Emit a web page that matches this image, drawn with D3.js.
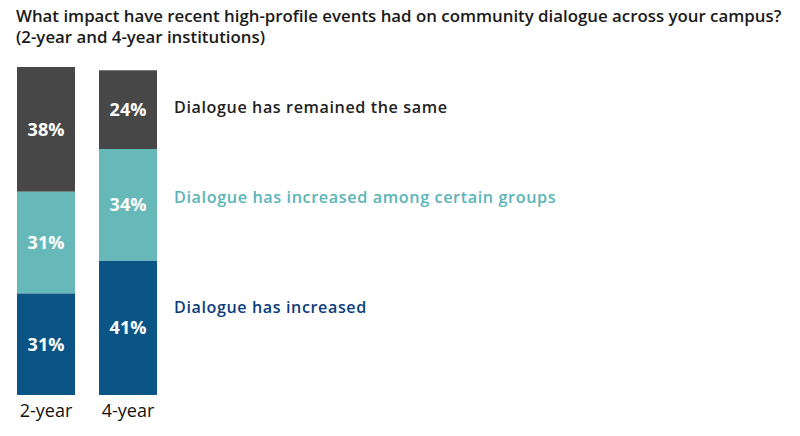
<!DOCTYPE html>
<html>
<head>
<meta charset="utf-8">
<script src="https://cdn.jsdelivr.net/npm/d3@7"></script>
<style>
  body { margin: 0; background: #fff; }
  text { font-family: "Open Sans", "DejaVu Sans", sans-serif; }
</style>
</head>
<body>
<script>
// data
var categories = ["2-year", "4-year"];
var seriesNames = ["Dialogue has increased", "Dialogue has increased among certain groups", "Dialogue has remained the same"];
var increased = [31, 41];
var increasedGroups = [31, 34];
var remainedSame = [38, 24];
var titleLines = ["What impact have recent high-profile events had on community dialogue across your campus?",
                  "(2-year and 4-year institutions)"];

var barColors = ["#0b5486", "#67b8b9", "#474747"];
var legendColors = ["#0b3d7c", "#5ab5b8", "#222222"];

var width = 800, height = 436;

var svg = d3.select("body").append("svg")
    .attr("width", width)
    .attr("height", height);

// fit a text element to a given width by scaling the font size
function fitWidth(sel, target) {
  var fs = parseFloat(sel.attr("font-size"));
  var w = sel.node().getComputedTextLength();
  sel.attr("font-size", (fs * target / w).toFixed(2));
}

// title
var t1 = svg.append("text").attr("x", 16).attr("y", 22)
    .attr("font-size", 17).attr("font-weight", 600).attr("fill", "#1a1a1a")
    .text(titleLines[0]);
fitWidth(t1, 766);
var t2 = svg.append("text").attr("x", 16).attr("y", 43)
    .attr("font-size", t1.attr("font-size")).attr("font-weight", 600).attr("fill", "#1a1a1a")
    .text(titleLines[1]);

var rows = categories.map(function(c, i) {
  return { cat: c, v0: increased[i], v1: increasedGroups[i], v2: remainedSame[i] };
});

var stack = d3.stack().keys(["v0", "v1", "v2"]);
var layers = stack(rows);

var x = d3.scaleBand()
    .domain(categories)
    .range([17, 157])
    .paddingInner(24 / 82);

var y = d3.scaleLinear()
    .domain([0, 100])
    .range([395, 67]);

var g = svg.selectAll(".layer")
    .data(layers)
  .enter().append("g")
    .attr("class", "layer")
    .attr("fill", function(d, i) { return barColors[i]; });

g.selectAll("rect")
    .data(function(d) { return d; })
  .enter().append("rect")
    .attr("x", function(d) { return x(d.data.cat); })
    .attr("y", function(d) { return y(d[1]); })
    .attr("width", x.bandwidth())
    .attr("height", function(d) { return y(d[0]) - y(d[1]); });

// value labels inside the segments
g.selectAll(".val")
    .data(function(d) { return d; })
  .enter().append("text")
    .attr("class", "val")
    .attr("x", function(d) { return x(d.data.cat) + x.bandwidth() / 2; })
    .attr("y", function(d) { return (y(d[0]) + y(d[1])) / 2; })
    .attr("dy", "0.36em")
    .attr("text-anchor", "middle")
    .attr("font-size", 18)
    .attr("font-weight", 700)
    .attr("fill", "#fff")
    .text(function(d) { return (d[1] - d[0]) + "%"; });

// category axis, no line or ticks
svg.append("g")
    .attr("transform", "translate(0,396)")
    .call(d3.axisBottom(x).tickSize(0).tickPadding(8))
    .call(function(a) { a.select(".domain").remove(); })
    .selectAll("text")
    .attr("font-size", 18)
    .attr("font-weight", 500)
    .attr("fill", "#111")
    .style("font-family", "\"Open Sans\", sans-serif");

// legend labels beside the 4-year bar
var legendY = [307, 197, 107];
var legendW = [193, 383, 274];
seriesNames.forEach(function(name, i) {
  var t = svg.append("text")
      .attr("x", 174)
      .attr("y", legendY[i])
      .attr("dy", "0.36em")
      .attr("font-size", 16)
      .attr("font-weight", 600)
      .attr("fill", legendColors[i])
      .attr("letter-spacing", 0.6)
      .text(name);
  fitWidth(t, legendW[i]);
});
</script>
</body>
</html>
